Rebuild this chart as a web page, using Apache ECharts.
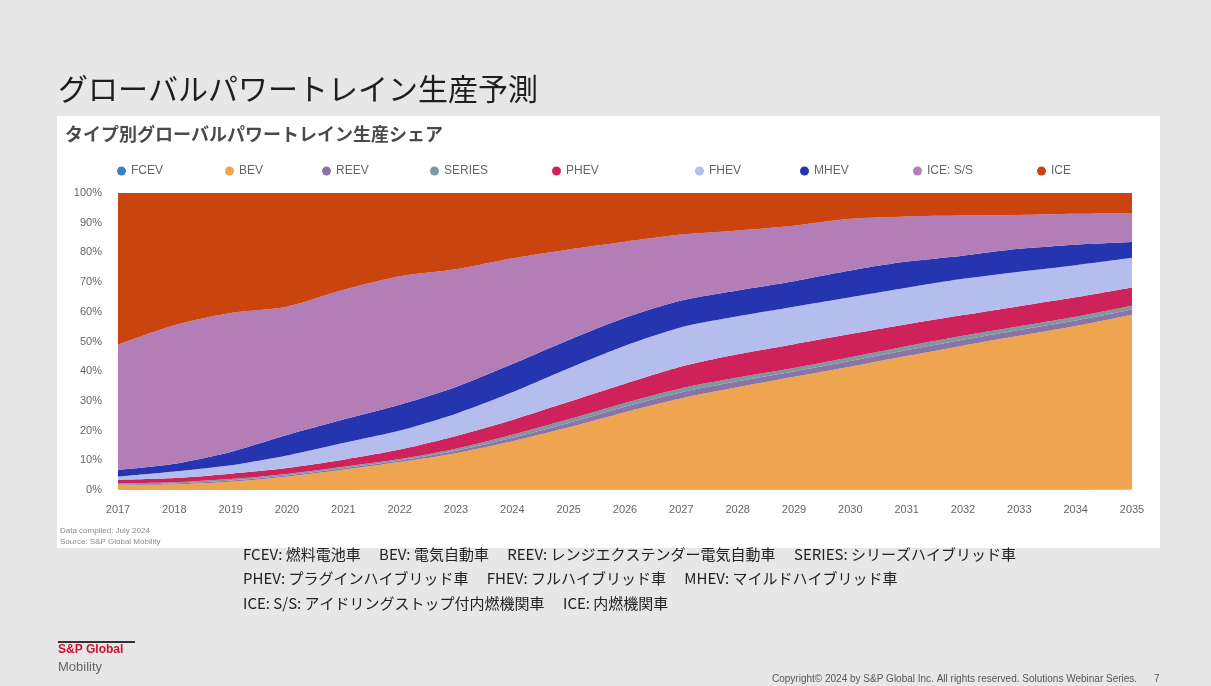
<!DOCTYPE html>
<html>
<head>
<meta charset="utf-8">
<script src="https://cdn.jsdelivr.net/npm/echarts@6/dist/echarts.min.js"></script>
<style>
  html, body { margin: 0; padding: 0; background: #e7e7e7; }
  #chart { width: 1211px; height: 686px; }
</style>
</head>
<body>
<div id="chart"></div>
<script>
// Global powertrain production share by type (%), 2017-2035
const years = ['2017','2018','2019','2020','2021','2022','2023','2024','2025','2026',
               '2027','2028','2029','2030','2031','2032','2033','2034','2035'];

const fcev   = [0, 0, 0, 0, 0, 0.05, 0.05, 0.05, 0.1, 0.1, 0.1, 0.1, 0.1, 0.1, 0.1, 0.1, 0.1, 0.1, 0.1];
const bev    = [1.5, 1.9, 2.8, 4.5, 6.8, 9.35, 12.35, 16.35, 21.0, 26.1, 30.8, 34.5, 38.0, 41.4, 45.0, 48.5, 51.8, 55.1, 58.9];
const reev   = [0.3, 0.3, 0.4, 0.4, 0.5, 0.5, 0.8, 1.2, 1.5, 1.8, 2.0, 2.0, 1.8, 1.9, 2.0, 2.0, 2.0, 1.9, 1.8];
const series = [0.4, 0.4, 0.5, 0.5, 0.5, 0.5, 0.7, 1.0, 1.2, 1.3, 1.4, 1.3, 1.2, 1.3, 1.3, 1.3, 1.2, 1.2, 1.2];
const phev   = [1.2, 1.4, 1.8, 2.0, 2.4, 3.2, 4.3, 5.0, 5.9, 6.5, 7.3, 7.8, 8.0, 7.8, 7.4, 7.0, 6.8, 6.6, 6.2];
const fhev   = [1.1, 2.2, 2.8, 4.2, 5.6, 6.4, 7.5, 9.3, 11.3, 12.8, 13.2, 12.8, 12.6, 12.4, 12.3, 12.2, 11.6, 10.8, 10.0];
const mhev   = [2.2, 2.6, 4.5, 6.9, 7.9, 8.7, 9.0, 9.5, 9.5, 9.4, 9.0, 8.7, 8.6, 9.0, 8.8, 7.8, 7.7, 6.9, 5.3];
const iceSS  = [42.3, 46.7, 46.8, 43.2, 43.7, 43.3, 39.6, 35.6, 30.5, 25.6, 22.2, 20.2, 18.7, 17.4, 15.2, 13.5, 11.4, 10.4, 9.8];
const ice    = [51.0, 44.5, 40.4, 38.3, 32.6, 28.0, 25.7, 22.0, 19.0, 16.4, 14.0, 12.6, 11.0, 8.7, 7.9, 7.6, 7.4, 7.0, 6.7];

const yTicks = [0, 10, 20, 30, 40, 50, 60, 70, 80, 90, 100];

const seriesDefs = [
  { name: 'FCEV',     data: fcev,   color: '#3d7fc4', legendX: 112 },
  { name: 'BEV',      data: bev,    color: '#efa54f', legendX: 220 },
  { name: 'REEV',     data: reev,   color: '#8a74a6', legendX: 317 },
  { name: 'SERIES',   data: series, color: '#7c98a0', legendX: 425 },
  { name: 'PHEV',     data: phev,   color: '#d0225a', legendX: 547 },
  { name: 'FHEV',     data: fhev,   color: '#b4bdeb', legendX: 690 },
  { name: 'MHEV',     data: mhev,   color: '#2535b0', legendX: 795 },
  { name: 'ICE: S/S', data: iceSS,  color: '#b37db7', legendX: 908 },
  { name: 'ICE',      data: ice,    color: '#ca4410', legendX: 1032 }
];

const chart = echarts.init(document.getElementById('chart'), null, { renderer: 'canvas' });

const jpFont = '"Noto Sans CJK JP", "Noto Sans", sans-serif';
const latinFont = '"Liberation Sans", Arial, sans-serif';

const defLines = [
  'FCEV: 燃料電池車　 BEV: 電気自動車　 REEV: レンジエクステンダー電気自動車　 SERIES: シリーズハイブリッド車',
  'PHEV: プラグインハイブリッド車　 FHEV: フルハイブリッド車　 MHEV: マイルドハイブリッド車',
  'ICE: S/S: アイドリングストップ付内燃機関車　 ICE: 内燃機関車'
];

const option = {
  backgroundColor: '#e7e7e7',
  animation: false,
  title: [
    {
      text: 'グローバルパワートレイン生産予測',
      left: 53, top: 69,
      textStyle: { fontFamily: jpFont, fontSize: 30, fontWeight: 'normal', color: '#1e1e1e' }
    },
    {
      text: 'タイプ別グローバルパワートレイン生産シェア',
      left: 60, top: 120,
      textStyle: { fontFamily: jpFont, fontSize: 18, fontWeight: 'bold', color: '#4a4a4a' }
    }
  ],
  legend: seriesDefs.map(s => ({
    data: [s.name],
    left: s.legendX, top: 160,
    icon: 'circle', itemWidth: 9, itemHeight: 9, itemGap: 4,
    textStyle: { fontFamily: latinFont, fontSize: 12, color: '#666' },
    selectedMode: false
  })),
  grid: { left: 118, right: 79, top: 193, bottom: 196, containLabel: false },
  xAxis: {
    type: 'category',
    data: years,
    boundaryGap: false,
    axisLine: { show: false },
    axisTick: { show: false },
    axisLabel: { fontFamily: latinFont, fontSize: 11, color: '#666', margin: 14, interval: 0 }
  },
  yAxis: {
    type: 'value',
    min: yTicks[0], max: yTicks[yTicks.length - 1], interval: 10,
    axisLine: { show: false },
    axisTick: { show: false },
    splitLine: { show: false },
    axisLabel: { fontFamily: latinFont, fontSize: 11, color: '#666', margin: 16, formatter: '{value}%' }
  },
  graphic: [
    { type: 'rect', z: -10, shape: { x: 57, y: 116, width: 1103, height: 432 }, style: { fill: '#ffffff' } },
    { type: 'text', left: 60, top: 527, style: { text: 'Data compiled: July 2024', font: '8px ' + latinFont, fill: '#8a8a8a' } },
    { type: 'text', left: 60, top: 538, style: { text: 'Source: S&P Global Mobility', font: '8px ' + latinFont, fill: '#8a8a8a' } },
    { type: 'text', left: 243, top: 547, style: { text: defLines[0], font: '15px ' + jpFont, fill: '#222' } },
    { type: 'text', left: 243, top: 571, style: { text: defLines[1], font: '15px ' + jpFont, fill: '#222' } },
    { type: 'text', left: 243, top: 596, style: { text: defLines[2], font: '15px ' + jpFont, fill: '#222' } },
    { type: 'rect', shape: { x: 58, y: 641, width: 77, height: 2 }, style: { fill: '#333' } },
    { type: 'text', left: 58, top: 644, style: { text: 'S&P Global', font: 'bold 12px ' + latinFont, fill: '#d0102e' } },
    { type: 'text', left: 58, top: 661, style: { text: 'Mobility', font: '13px ' + latinFont, fill: '#666' } },
    { type: 'text', left: 772, top: 674, style: { text: 'Copyright© 2024 by S&P Global Inc. All rights reserved. Solutions Webinar Series.', font: '10px ' + latinFont, fill: '#555' } },
    { type: 'text', left: 1154, top: 674, style: { text: '7', font: '10px ' + latinFont, fill: '#555' } }
  ],
  series: seriesDefs.map(s => ({
    name: s.name,
    type: 'line',
    stack: 'share',
    data: s.data,
    smooth: 0.25,
    symbol: 'none',
    lineStyle: { width: 0 },
    areaStyle: { color: s.color, opacity: 1 },
    itemStyle: { color: s.color },
    emphasis: { disabled: true }
  }))
};

chart.setOption(option);
</script>
</body>
</html>
